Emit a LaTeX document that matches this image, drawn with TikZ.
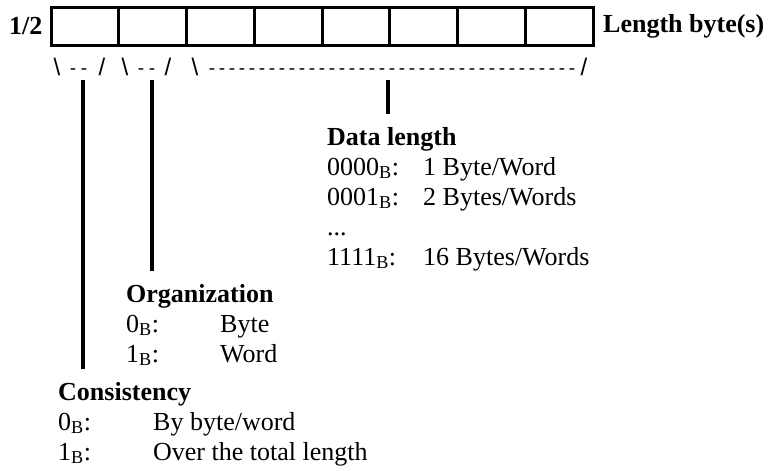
\documentclass[tikz,border=0pt]{standalone}
\usepackage{fontspec}
\setmainfont{Liberation Serif}
\newfontfamily\dashfont{Liberation Sans}
\usetikzlibrary{positioning,calc}

\begin{document}
\begin{tikzpicture}[x=1pt,y=-1pt,
  cell/.style={draw,line width=3pt,minimum width=67.75pt,minimum height=38pt,inner sep=0pt},
  hdr/.style={font=\fontsize{26}{30}\selectfont\bfseries,inner sep=0pt},
  blk/.style={anchor=north west,inner sep=0pt,align=left,font=\fontsize{26}{30}\selectfont},
  ch/.style={font=\dashfont\fontsize{24}{28}\selectfont,inner sep=0pt,anchor=base},
  dsh/.style={ch,font=\dashfont\fontsize{19}{24}\selectfont},
  lead/.style={line width=3.2pt,shorten >=10pt}]
\useasboundingbox (0,0) rectangle (771,471);
% the length byte
\foreach \i in {0,...,7}
  \node[cell] (b\i) at ({84.875+67.75*\i},26) {};
\node[hdr,left=7pt of b0] (half) {1/2};
\node[hdr,right=8.5pt of b7] (lenb) {Length byte(s)};
% text brackets under the bits
\foreach \c/\x [count=\n] in {\textbackslash/57,{/}/102,\textbackslash/125,{/}/168,
  \textbackslash/195,{/}/584}
  \node[ch] (g\n) at (\x,75) {\c};
\foreach \x [count=\n] in {73,84,141,152}
  \node[dsh] (s\n) at (\x,74) {-};
\foreach \k in {0,...,36}
  \node[dsh] (d\k) at ({212+10*\k},74) {-};
\coordinate (t1) at (83,80);
\coordinate (t2) at (152,80);
\coordinate (t3) at (388,80);
% field descriptions
\node[blk] (dlen) at (327,124) {\begin{tabular}{@{}p{96pt}@{}l@{}}
  \multicolumn{2}{@{}l}{\bfseries Data length}\\
  0000\textsubscript{B}: & 1 Byte/Word\\
  0001\textsubscript{B}: & 2 Bytes/Words\\
  ... & \\
  1111\textsubscript{B}: & 16 Bytes/Words
  \end{tabular}};
\node[blk] (org) at (126,281) {\begin{tabular}{@{}p{94pt}@{}l@{}}
  \multicolumn{2}{@{}l}{\bfseries Organization}\\
  0\textsubscript{B}: & Byte\\
  1\textsubscript{B}: & Word
  \end{tabular}};
\node[blk] (cons) at (58,379) {\begin{tabular}{@{}p{95pt}@{}l@{}}
  \multicolumn{2}{@{}l}{\bfseries Consistency}\\
  0\textsubscript{B}: & By byte/word\\
  1\textsubscript{B}: & Over the total length
  \end{tabular}};
\draw[lead] (t1) -- (t1 |- cons.north);
\draw[lead] (t2) -- (t2 |- org.north);
\draw[lead] (t3) -- (t3 |- dlen.north);
\end{tikzpicture}
\end{document}
